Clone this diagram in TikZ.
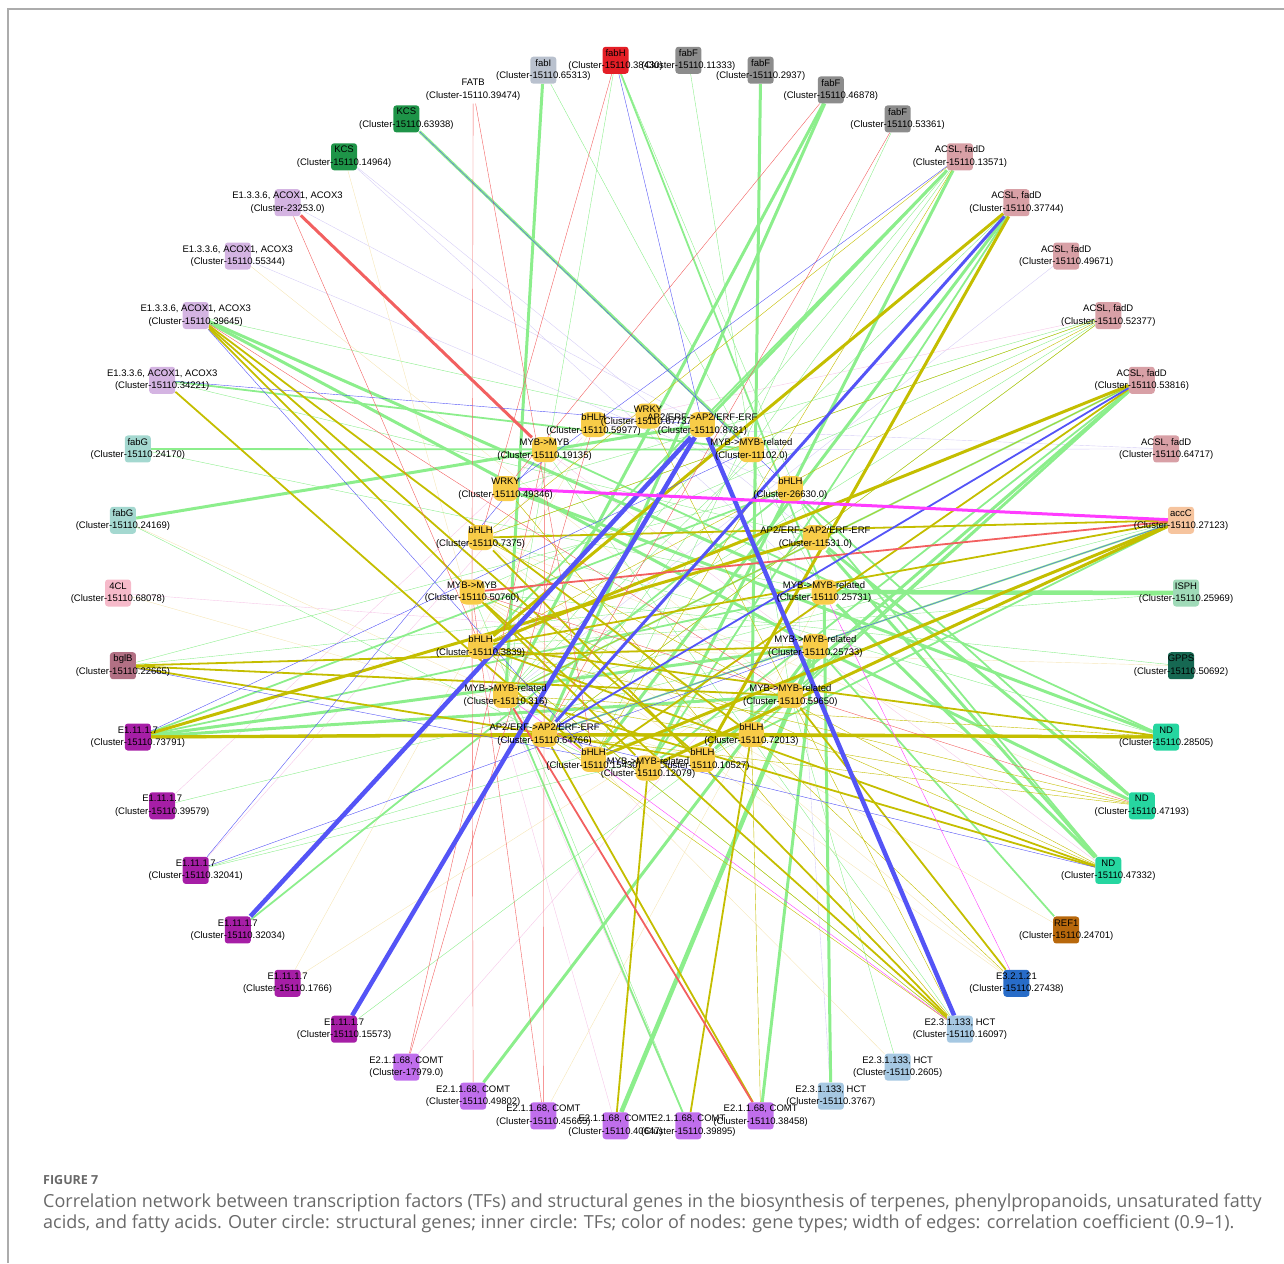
\documentclass[tikz,border=0pt]{standalone}
\usepackage{fontspec}
\setmainfont{Liberation Sans}
\newfontfamily\capfont{Open Sans}
\usetikzlibrary{backgrounds}

\definecolor{cFabH}{RGB}{228,30,38}
\definecolor{cFabF}{RGB}{140,140,140}
\definecolor{cFabI}{RGB}{185,193,206}
\definecolor{cAcsl}{RGB}{216,160,166}
\definecolor{cAccC}{RGB}{246,196,158}
\definecolor{cIsph}{RGB}{160,218,184}
\definecolor{cGpps}{RGB}{22,104,82}
\definecolor{cNd}{RGB}{38,214,160}
\definecolor{cRef}{RGB}{184,104,12}
\definecolor{cBglu}{RGB}{40,108,200}
\definecolor{cHct}{RGB}{166,200,226}
\definecolor{cComt}{RGB}{192,110,236}
\definecolor{cPox}{RGB}{166,30,166}
\definecolor{cBglB}{RGB}{178,112,132}
\definecolor{cFourCL}{RGB}{246,186,202}
\definecolor{cFabG}{RGB}{164,216,208}
\definecolor{cAcox}{RGB}{212,180,226}
\definecolor{cKcs}{RGB}{30,148,72}
\definecolor{cTF}{RGB}{248,204,72}
\definecolor{eGreen}{RGB}{140,238,140}
\definecolor{eOlive}{RGB}{196,190,0}
\definecolor{eBlue}{RGB}{84,84,246}
\definecolor{eRed}{RGB}{242,96,96}
\definecolor{eMag}{RGB}{255,60,255}
\definecolor{ePink}{RGB}{246,200,232}
\definecolor{eLav}{RGB}{214,206,246}
\definecolor{eYel}{RGB}{246,230,184}
\definecolor{capGray}{RGB}{105,105,105}
\definecolor{frameGray}{RGB}{172,172,172}

\tikzset{
  gene/.style={rectangle, rounded corners=3pt, minimum width=26pt, minimum height=27pt, inner sep=0pt, fill=#1},
  tf/.style={rectangle, rounded corners=7pt, minimum size=25pt, inner sep=0pt, fill=cTF},
  tag/.style={align=center, inner sep=0pt, font=\fontsize{9.5}{12.5}\selectfont},
  gr/.style={draw=eGreen}, ol/.style={draw=eOlive}, bl/.style={draw=eBlue}, rd/.style={draw=eRed},
  mg/.style={draw=eMag}, pk/.style={draw=ePink}, lv/.style={draw=eLav}, yl/.style={draw=eYel},
  w2/.style={line width=1.8pt}, w3/.style={line width=3pt}, w4/.style={line width=4.5pt},
}

\begin{document}
\begin{tikzpicture}[x=1pt, y=1pt]
  \useasboundingbox (0,0) rectangle (1284,-1263);
  \draw[frameGray, line width=1.5pt] (8,-1263) -- (8,-9) -- (1284,-9);

  \begin{scope}[shift={(652,-593)}]
  \node[gene=cFabH, label={[tag]center:{fabH\\(Cluster-15110.38430)}}] (fabH) at (93.91:534) {};
  \node[gene=cFabF, label={[tag]center:{fabF\\(Cluster-15110.11333)}}] (fabFa) at (86.09:534) {};
  \node[gene=cFabF, label={[tag]center:{fabF\\(Cluster-15110.2937)}}] (fabFb) at (78.26:534) {};
  \node[gene=cFabF, label={[tag]center:{fabF\\(Cluster-15110.46878)}}] (fabFc) at (70.43:534) {};
  \node[gene=cFabF, label={[tag]center:{fabF\\(Cluster-15110.53361)}}] (fabFd) at (62.61:534) {};
  \node[gene=cAcsl, label={[tag]center:{ACSL, fadD\\(Cluster-15110.13571)}}] (acslA) at (54.78:534) {};
  \node[gene=cAcsl, label={[tag]center:{ACSL, fadD\\(Cluster-15110.37744)}}] (acslB) at (46.96:534) {};
  \node[gene=cAcsl, label={[tag]center:{ACSL, fadD\\(Cluster-15110.49671)}}] (acslC) at (39.13:534) {};
  \node[gene=cAcsl, label={[tag]center:{ACSL, fadD\\(Cluster-15110.52377)}}] (acslD) at (31.30:534) {};
  \node[gene=cAcsl, label={[tag]center:{ACSL, fadD\\(Cluster-15110.53816)}}] (acslE) at (23.48:534) {};
  \node[gene=cAcsl, label={[tag]center:{ACSL, fadD\\(Cluster-15110.64717)}}] (acslF) at (15.65:534) {};
  \node[gene=cAccC, label={[tag]center:{accC\\(Cluster-15110.27123)}}] (accC) at (7.83:534) {};
  \node[gene=cIsph, label={[tag]center:{ISPH\\(Cluster-15110.25969)}}] (isph) at (0:534) {};
  \node[gene=cGpps, label={[tag]center:{GPPS\\(Cluster-15110.50692)}}] (gpps) at (-7.83:534) {};
  \node[gene=cNd, label={[tag]center:{ND\\(Cluster-15110.28505)}}] (ndA) at (-15.65:534) {};
  \node[gene=cNd, label={[tag]center:{ND\\(Cluster-15110.47193)}}] (ndB) at (-23.48:534) {};
  \node[gene=cNd, label={[tag]center:{ND\\(Cluster-15110.47332)}}] (ndC) at (-31.30:534) {};
  \node[gene=cRef, label={[tag]center:{REF1\\(Cluster-15110.24701)}}] (ref) at (-39.13:534) {};
  \node[gene=cBglu, label={[tag]center:{E3.2.1.21\\(Cluster-15110.27438)}}] (bglu) at (-46.96:534) {};
  \node[gene=cHct, label={[tag]center:{E2.3.1.133, HCT\\(Cluster-15110.16097)}}] (hctA) at (-54.78:534) {};
  \node[gene=cHct, label={[tag]center:{E2.3.1.133, HCT\\(Cluster-15110.2605)}}] (hctB) at (-62.61:534) {};
  \node[gene=cHct, label={[tag]center:{E2.3.1.133, HCT\\(Cluster-15110.3767)}}] (hctC) at (-70.43:534) {};
  \node[gene=cComt, label={[tag]center:{E2.1.1.68, COMT\\(Cluster-15110.38458)}}] (comtA) at (-78.26:534) {};
  \node[gene=cComt, label={[tag]center:{E2.1.1.68, COMT\\(Cluster-15110.39895)}}] (comtB) at (-86.09:534) {};
  \node[gene=cComt, label={[tag]center:{E2.1.1.68, COMT\\(Cluster-15110.40647)}}] (comtC) at (-93.91:534) {};
  \node[gene=cComt, label={[tag]center:{E2.1.1.68, COMT\\(Cluster-15110.45665)}}] (comtD) at (-101.74:534) {};
  \node[gene=cComt, label={[tag]center:{E2.1.1.68, COMT\\(Cluster-15110.49802)}}] (comtE) at (-109.57:534) {};
  \node[gene=cComt, label={[tag]center:{E2.1.1.68, COMT\\(Cluster-17979.0)}}] (comtF) at (-117.39:534) {};
  \node[gene=cPox, label={[tag]center:{E1.11.1.7\\(Cluster-15110.15573)}}] (poxA) at (-125.22:534) {};
  \node[gene=cPox, label={[tag]center:{E1.11.1.7\\(Cluster-15110.1766)}}] (poxB) at (-133.04:534) {};
  \node[gene=cPox, label={[tag]center:{E1.11.1.7\\(Cluster-15110.32034)}}] (poxC) at (-140.87:534) {};
  \node[gene=cPox, label={[tag]center:{E1.11.1.7\\(Cluster-15110.32041)}}] (poxD) at (-148.70:534) {};
  \node[gene=cPox, label={[tag]center:{E1.11.1.7\\(Cluster-15110.39579)}}] (poxE) at (-156.52:534) {};
  \node[gene=cPox, label={[tag]center:{E1.11.1.7\\(Cluster-15110.73791)}}] (poxF) at (-164.35:534) {};
  \node[gene=cBglB, label={[tag]center:{bglB\\(Cluster-15110.22665)}}] (bglB) at (-172.17:534) {};
  \node[gene=cFourCL, label={[tag]center:{4CL\\(Cluster-15110.68078)}}] (fourCL) at (180:534) {};
  \node[gene=cFabG, label={[tag]center:{fabG\\(Cluster-15110.24169)}}] (fabGa) at (172.17:534) {};
  \node[gene=cFabG, label={[tag]center:{fabG\\(Cluster-15110.24170)}}] (fabGb) at (164.35:534) {};
  \node[gene=cAcox, label={[tag]center:{E1.3.3.6, ACOX1, ACOX3\\(Cluster-15110.34221)}}] (acoxA) at (156.52:534) {};
  \node[gene=cAcox, label={[tag]center:{E1.3.3.6, ACOX1, ACOX3\\(Cluster-15110.39645)}}] (acoxB) at (148.70:534) {};
  \node[gene=cAcox, label={[tag]center:{E1.3.3.6, ACOX1, ACOX3\\(Cluster-15110.55344)}}] (acoxC) at (140.87:534) {};
  \node[gene=cAcox, label={[tag]center:{E1.3.3.6, ACOX1, ACOX3\\(Cluster-23253.0)}}] (acoxD) at (133.04:534) {};
  \node[gene=cKcs, label={[tag]center:{KCS\\(Cluster-15110.14964)}}] (kcsA) at (125.22:534) {};
  \node[gene=cKcs, label={[tag]center:{KCS\\(Cluster-15110.63938)}}] (kcsB) at (117.39:534) {};
  \node[gene=none, label={[tag]center:{FATB\\(Cluster-15110.39474)}}] (fatb) at (109.57:534) {};
  \node[gene=cFabI, label={[tag]center:{fabI\\(Cluster-15110.65313)}}] (fabI) at (101.74:534) {};
  \end{scope}

  \begin{scope}[shift={(648,-592)}]
  \node[tf, label={[tag]center:{MYB-{}>MYB-related\\(Cluster-15110.25731)}}] (myr25731) at (0:176) {};
  \node[tf, label={[tag]center:{MYB-{}>MYB-related\\(Cluster-15110.25733)}}] (myr25733) at (-18:176) {};
  \node[tf, label={[tag]center:{MYB-{}>MYB-related\\(Cluster-15110.59650)}}] (myr59650) at (-36:176) {};
  \node[tf, label={[tag]center:{bHLH\\(Cluster-15110.72013)}}] (bhlh72013) at (-54:176) {};
  \node[tf, label={[tag]center:{bHLH\\(Cluster-15110.10527)}}] (bhlh10527) at (-72:176) {};
  \node[tf, label={[tag]center:{MYB-{}>MYB-related\\(Cluster-15110.12079)}}] (myr12079) at (-90:176) {};
  \node[tf, label={[tag]center:{bHLH\\(Cluster-15110.15430)}}] (bhlh15430) at (-108:176) {};
  \node[tf, label={[tag]center:{AP2/ERF-{}>AP2/ERF-ERF\\(Cluster-15110.64766)}}] (ap64766) at (-126:176) {};
  \node[tf, label={[tag]center:{MYB-{}>MYB-related\\(Cluster-15110.316)}}] (myr316) at (-144:176) {};
  \node[tf, label={[tag]center:{bHLH\\(Cluster-15110.3839)}}] (bhlh3839) at (-162:176) {};
  \node[tf, label={[tag]center:{MYB-{}>MYB\\(Cluster-15110.50760)}}] (myb50760) at (180:176) {};
  \node[tf, label={[tag]center:{bHLH\\(Cluster-15110.7375)}}] (bhlh7375) at (162:176) {};
  \node[tf, label={[tag]center:{WRKY\\(Cluster-15110.49346)}}] (wrky49346) at (144:176) {};
  \node[tf, label={[tag]center:{MYB-{}>MYB\\(Cluster-15110.19135)}}] (myb19135) at (126:176) {};
  \node[tf, label={[tag]center:{bHLH\\(Cluster-15110.59977)}}] (bhlh59977) at (108:176) {};
  \node[tf, label={[tag]center:{WRKY\\(Cluster-15110.67737)}}] (wrky67737) at (90:176) {};
  \node[tf, label={[tag]center:{AP2/ERF-{}>AP2/ERF-ERF\\(Cluster-15110.8781)}}] (ap8781) at (72:176) {};
  \node[tf, label={[tag]center:{MYB-{}>MYB-related\\(Cluster-11102.0)}}] (myr11102) at (54:176) {};
  \node[tf, label={[tag]center:{bHLH\\(Cluster-26630.0)}}] (bhlh26630) at (36:176) {};
  \node[tf, label={[tag]center:{AP2/ERF-{}>AP2/ERF-ERF\\(Cluster-11531.0)}}] (ap11531) at (18:176) {};
  \end{scope}

  \begin{scope}[on background layer, line width=0.9pt]
  \draw[lv] (acslC) -- (myr316);
  \draw[pk] (acslD) -- (bhlh59977);
  \draw[lv] (acslF) -- (bhlh59977);
  \draw[lv] (acslF) -- (myb19135);
  \draw[lv] (acoxC) -- (bhlh26630);
  \draw[lv] (acoxD) -- (myr11102);
  \draw[lv] (kcsA) -- (myr25731);
  \draw[pk] (fourCL) -- (myr25733);
  \draw[pk] (poxE) -- (myb19135);
  \draw[yl] (poxB) -- (bhlh59977);
  \draw[yl] (bglu) -- (bhlh7375);
  \draw[pk] (comtB) -- (bhlh3839);
  \draw[pk] (comtC) -- (bhlh3839);
  \draw[pk] (ndC) -- (myb19135);
  \draw[lv] (hctC) -- (bhlh26630);
  \draw[yl] (kcsA) -- (bhlh3839);
  \draw[yl] (fabGa) -- (myr316);
  \draw[yl] (poxB) -- (myr25733);
  \draw[yl] (acoxC) -- (myr59650);
  \draw[yl] (fourCL) -- (bhlh10527);
  \draw[yl] (gpps) -- (bhlh3839);
  \draw[yl] (hctB) -- (bhlh3839);
  \draw[yl] (comtD) -- (myr25731);
  \draw[yl] (bglu) -- (myb50760);
  \draw[pk] (poxD) -- (bhlh59977);
  \draw[yl] (ref) -- (myb50760);
  \draw[yl] (ndB) -- (bhlh7375);
  \draw[lv] (kcsA) -- (ap11531);
  \draw[pk] (comtF) -- (myr25731);
  \draw[yl] (hctA) -- (wrky49346);

  \draw[gr, w3] (fabI) -- (myr316);
  \draw[gr] (fabI) -- (myr25731);
  \draw[gr] (fabH) -- (myr316);
  \draw[gr, w2] (fabH) -- (myr25731);
  \draw[gr] (fabH) -- (ap11531);
  \draw[gr] (fabFa) -- (myr59650);
  \draw[gr, w3] (fabFb) -- (bhlh72013);
  \draw[gr, w3] (fabFc) -- (myr316);
  \draw[gr, w3] (fabFc) -- (ap64766);
  \draw[gr] (fabFd) -- (bhlh15430);
  \draw[gr, w3] (acslA) -- (ap8781);
  \draw[gr, w2] (acslA) -- (bhlh3839);
  \draw[gr] (acslA) -- (ap64766);
  \draw[gr] (acslA) -- (myr316);
  \draw[gr, w3] (acslA) -- (myr12079);
  \draw[gr, w3] (acslB) -- (bhlh15430);
  \draw[gr, w2] (acslB) -- (myr12079);
  \draw[gr] (acslB) -- (myr316);
  \draw[gr] (acslB) -- (ap64766);
  \draw[gr] (acslD) -- (wrky49346);
  \draw[gr] (acslD) -- (myb50760);
  \draw[gr] (acslD) -- (myr316);
  \draw[gr] (acslD) -- (bhlh7375);
  \draw[gr] (acslD) -- (ap64766);
  \draw[gr, w3] (acslE) -- (bhlh10527);
  \draw[gr, w2] (acslE) -- (myr12079);
  \draw[gr, w2] (acslE) -- (bhlh72013);
  \draw[gr, w2] (acslE) -- (myr59650);
  \draw[gr, w2] (acslE) -- (myr316);
  \draw[gr] (acslE) -- (bhlh15430);
  \draw[gr] (accC) -- (myr316);
  \draw[gr] (accC) -- (bhlh10527);
  \draw[gr, w2] (accC) -- (bhlh72013);
  \draw[gr, w2] (accC) -- (ap64766);
  \draw[gr] (accC) -- (bhlh3839);
  \draw[gr, w4] (isph) -- (myr25731);
  \draw[gr] (isph) -- (bhlh3839);
  \draw[gr] (gpps) -- (myb50760);
  \draw[gr, w3] (ndA) -- (wrky49346);
  \draw[gr] (ndA) -- (bhlh7375);
  \draw[gr, w2] (ndA) -- (myb19135);
  \draw[gr] (ndA) -- (bhlh3839);
  \draw[gr, w3] (ndB) -- (myr25733);
  \draw[gr, w3] (ndB) -- (ap11531);
  \draw[gr, w2] (ndB) -- (bhlh26630);
  \draw[gr, w3] (ndC) -- (myr25731);
  \draw[gr, w3] (ndC) -- (ap11531);
  \draw[gr, w2] (ndC) -- (bhlh26630);
  \draw[gr, w2] (ref) -- (myr25733);
  \draw[gr] (hctA) -- (myb19135);
  \draw[gr] (hctA) -- (bhlh3839);
  \draw[gr] (hctB) -- (myr59650);
  \draw[gr, w3] (hctC) -- (myr25731);
  \draw[gr, w3] (comtA) -- (myr25733);
  \draw[gr, w2] (comtB) -- (myr316);
  \draw[gr] (comtB) -- (myb50760);
  \draw[gr, w4] (comtC) -- (myr25733);
  \draw[gr, w3] (comtE) -- (myr25733);
  \draw[gr] (poxA) -- (myr59650);
  \draw[gr, w2] (poxC) -- (bhlh26630);
  \draw[gr] (poxD) -- (bhlh72013);
  \draw[gr] (poxD) -- (myr59650);
  \draw[gr] (poxE) -- (myr25733);
  \draw[gr, w3] (poxF) -- (myr59650);
  \draw[gr, w3] (poxF) -- (myr25733);
  \draw[gr, w2] (poxF) -- (myr25731);
  \draw[gr, w2] (poxF) -- (bhlh26630);
  \draw[gr] (bglB) -- (myr25731);
  \draw[gr] (bglB) -- (bhlh26630);
  \draw[gr, w3] (fabGa) -- (ap8781);
  \draw[gr] (fabGa) -- (bhlh15430);
  \draw[gr, w2] (fabGb) -- (myr11102);
  \draw[gr] (fabGb) -- (myr25731);
  \draw[gr, w2] (acoxA) -- (myr11102);
  \draw[gr] (acoxA) -- (ap11531);
  \draw[gr, w3] (acoxB) -- (myr25731);
  \draw[gr, w3] (acoxB) -- (myr25733);
  \draw[gr, w3] (kcsB) -- (myr11102);
  \draw[gr] (acoxB) -- (wrky67737);

  \draw[ol] (acslA) -- (bhlh7375);
  \draw[ol] (acslA) -- (bhlh15430);
  \draw[ol, w3] (acslB) -- (bhlh3839);
  \draw[ol, w3] (acslB) -- (bhlh10527);
  \draw[ol] (acslD) -- (bhlh7375);
  \draw[ol] (acslD) -- (bhlh3839);
  \draw[ol] (acslD) -- (ap64766);
  \draw[ol, w3] (acslE) -- (bhlh3839);
  \draw[ol, w2] (acslE) -- (bhlh15430);
  \draw[ol] (acslE) -- (myr316);
  \draw[ol, w2] (accC) -- (bhlh7375);
  \draw[ol, w2] (accC) -- (bhlh3839);
  \draw[ol, w3] (accC) -- (bhlh15430);
  \draw[ol, w3] (accC) -- (myr12079);
  \draw[ol, w3] (ndA) -- (bhlh72013);
  \draw[ol, w3] (ndA) -- (ap64766);
  \draw[ol, w2] (ndA) -- (bhlh3839);
  \draw[ol] (ndA) -- (myr316);
  \draw[ol] (ndB) -- (bhlh3839);
  \draw[ol] (ndB) -- (myr316);
  \draw[ol] (ndB) -- (ap64766);
  \draw[ol, w2] (ndC) -- (bhlh3839);
  \draw[ol] (ndC) -- (myb50760);
  \draw[ol, w2] (ndC) -- (myr316);
  \draw[ol] (ndC) -- (bhlh7375);
  \draw[ol, w2] (bglu) -- (myr59650);
  \draw[ol] (bglu) -- (bhlh72013);
  \draw[ol, w2] (hctA) -- (bhlh7375);
  \draw[ol, w2] (hctA) -- (myb50760);
  \draw[ol] (hctA) -- (bhlh3839);
  \draw[ol] (hctA) -- (wrky49346);
  \draw[ol] (hctA) -- (ap64766);
  \draw[ol] (hctA) -- (wrky67737);
  \draw[ol, w2] (comtA) -- (ap64766);
  \draw[ol] (comtA) -- (bhlh72013);
  \draw[ol, w2] (comtB) -- (bhlh72013);
  \draw[ol, w2] (comtC) -- (myr12079);
  \draw[ol, w3] (poxF) -- (ap64766);
  \draw[ol, w3] (poxF) -- (bhlh72013);
  \draw[ol, w3] (poxF) -- (ap11531);
  \draw[ol, w2] (bglB) -- (myr25733);
  \draw[ol, w2] (bglB) -- (myr59650);
  \draw[ol, w2] (bglB) -- (bhlh10527);
  \draw[ol, w2] (acoxA) -- (bhlh15430);
  \draw[ol, w2] (acoxB) -- (bhlh72013);
  \draw[ol, w2] (acoxB) -- (bhlh10527);
  \draw[ol, w2] (acoxB) -- (myr12079);

  \draw[rd] (fabH) -- (bhlh7375);
  \draw[rd] (fabFc) -- (wrky49346);
  \draw[rd] (fabFd) -- (ap64766);
  \draw[rd, w2] (accC) -- (myb50760);
  \draw[rd] (ndB) -- (myb50760);
  \draw[rd, w2] (comtA) -- (myr316);
  \draw[rd] (comtD) -- (myb19135);
  \draw[rd] (comtD) -- (myb50760);
  \draw[rd] (comtE) -- (myb50760);
  \draw[rd] (comtF) -- (myb19135);
  \draw[rd] (comtF) -- (bhlh59977);
  \draw[rd, w3] (acoxD) -- (myb19135);
  \draw[rd] (acoxD) -- (bhlh3839);
  \draw[rd] (fatb) -- (myb50760);
  \draw[rd] (fatb) -- (bhlh15430);
  \draw[rd] (acoxB) -- (myr59650);

  \draw[bl] (fabH) -- (ap8781);
  \draw[bl] (acslA) -- (wrky49346);
  \draw[bl, w3] (acslB) -- (ap64766);
  \draw[bl, w2] (acslE) -- (ap64766);
  \draw[bl] (accC) -- (ap64766);
  \draw[bl] (ndC) -- (ap64766);
  \draw[bl, w4] (hctA) -- (ap8781);
  \draw[bl, w4] (poxA) -- (ap8781);
  \draw[bl, w4] (poxC) -- (ap8781);
  \draw[bl] (poxD) -- (myb19135);
  \draw[bl] (poxD) -- (myr25733);
  \draw[bl] (poxF) -- (myr11102);
  \draw[bl] (bglB) -- (myr12079);
  \draw[bl] (acoxA) -- (ap8781);
  \draw[bl] (acoxB) -- (bhlh15430);
  \draw[bl] (kcsB) -- (bhlh26630);

  \draw[mg, w3] (accC) -- (wrky49346);
  \draw[mg] (bglu) -- (myr25731);
  \draw[mg] (hctA) -- (myr316);
  \end{scope}

  \node[anchor=west, inner sep=0pt, text=capGray, font=\capfont\bfseries\fontsize{12.5}{15}\selectfont] (figno) at (43,-1180) {FIGURE 7};
  \node[anchor=base west, inner sep=0pt, align=left, text=capGray, font=\capfont\fontsize{18}{20.5}\selectfont] (caption) at (43,-1228) {Correlation network between transcription factors (TFs) and structural genes in the biosynthesis of terpenes, phenylpropanoids, unsaturated fatty\\acids, and fatty acids. Outer circle: structural genes; inner circle: TFs; color of nodes: gene types; width of edges: correlation coefficient (0.9–1).};
\end{tikzpicture}
\end{document}
